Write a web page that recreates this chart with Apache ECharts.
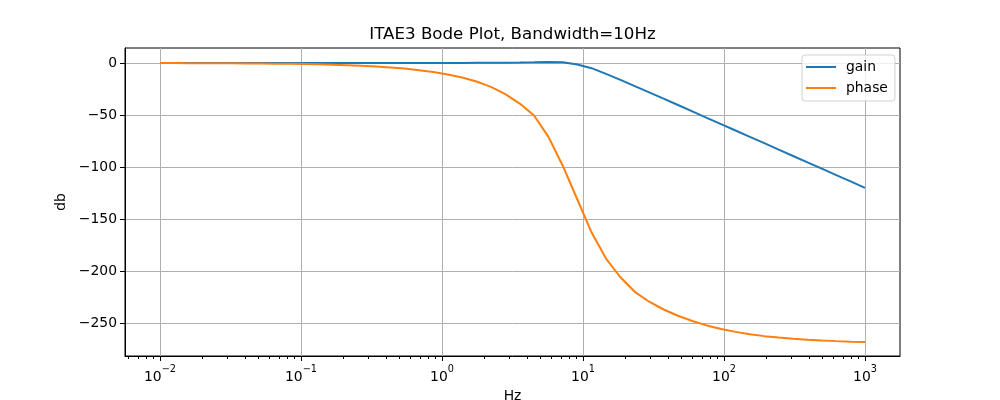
<!DOCTYPE html>
<html>
<head>
<meta charset="utf-8">
<script src="https://cdn.jsdelivr.net/npm/echarts@6/dist/echarts.min.js"></script>
<style>
html,body{margin:0;padding:0;background:#fff;}
#chart{width:1000px;height:400px;}
</style>
</head>
<body>
<div id="chart"></div>
<script>
// Frequencies (Hz), 50 log-spaced samples
const freqs = [0.01, 0.012649, 0.015999, 0.020236, 0.025595, 0.032375, 0.040949, 0.051795, 0.065513, 0.082864,
  0.10481, 0.13257, 0.16768, 0.21210, 0.26827, 0.33932, 0.42919, 0.54287, 0.68665, 0.86851,
  1.0985, 1.3895, 1.7575, 2.2230, 2.8118, 3.5565, 4.4984, 5.6899, 7.1969, 9.1030,
  11.514, 14.563, 18.421, 23.300, 29.471, 37.276, 47.149, 59.636, 75.431, 95.410,
  120.68, 152.64, 193.07, 244.21, 308.89, 390.70, 494.17, 625.06, 790.60, 1000];

const gain = [0, 0, 0, 0, 0, 0, 0, 0, 0, 0,
  0, 0, 0, 0, 0, 0, 0, 0, 0, 0,
  0, 0.05, 0.1, 0.15, 0.25, 0.4, 0.6, 0.85, 0.7, -1.5,
  -5, -10.5, -16.2, -22.2, -28.2, -34.3, -40.4, -46.5, -52.7, -58.8,
  -64.9, -71.0, -77.1, -83.3, -89.4, -95.5, -101.6, -107.8, -113.9, -120];

const phase = [-0.1, -0.13, -0.16, -0.2, -0.26, -0.32, -0.41, -0.52, -0.66, -0.83,
  -1.05, -1.33, -1.68, -2.1, -2.7, -3.4, -4.3, -5.4, -6.9, -8.7,
  -11, -14, -17.8, -23, -30, -39, -50.5, -71, -99, -131,
  -163, -188, -206, -220, -229.5, -237, -243, -248, -252.3, -255.7,
  -258.5, -260.8, -262.6, -264, -265.2, -266.1, -266.8, -267.4, -267.9, -268.3];

const xMajorTicks = [0.01, 0.1, 1, 10, 100, 1000];
const xMinorTicks = [0.006, 0.007, 0.008, 0.009,
  0.02, 0.03, 0.04, 0.05, 0.06, 0.07, 0.08, 0.09,
  0.2, 0.3, 0.4, 0.5, 0.6, 0.7, 0.8, 0.9,
  2, 3, 4, 5, 6, 7, 8, 9,
  20, 30, 40, 50, 60, 70, 80, 90,
  200, 300, 400, 500, 600, 700, 800, 900];
const yTicks = [-250, -200, -150, -100, -50, 0];

const titleText = 'ITAE3 Bode Plot, Bandwidth=10Hz';
const xName = 'Hz';
const yName = 'db';
const seriesNames = ['gain', 'phase'];

const FONT = 'DejaVu Sans';
const xMin = 0.005646, xMax = 1771;
const yMin = -281.7, yMax = 14.4;

const chart = echarts.init(document.getElementById('chart'), null, {renderer: 'canvas'});

function mkPair(xs, ys) { return xs.map((x, i) => [x, ys[i]]); }

chart.setOption({
  animation: false,
  backgroundColor: '#fff',
  title: {
    text: titleText,
    left: 512.5,
    textAlign: 'center',
    top: 26,
    padding: 0,
    textStyle: {fontFamily: FONT, fontSize: 16.67, fontWeight: 'normal', color: '#000'}
  },
  grid: {
    left: 125, right: 100, top: 48, bottom: 44,
    containLabel: false, outerBoundsMode: 'none',
    show: true, borderColor: '#000', borderWidth: 1, backgroundColor: 'transparent'
  },
  legend: {
    orient: 'vertical',
    left: 802, top: 55,
    padding: [4, 7, 5, 4],
    icon: 'rect',
    itemWidth: 30, itemHeight: 2, itemGap: 5,
    backgroundColor: 'rgba(255,255,255,0.8)',
    borderColor: 'rgba(204,204,204,0.9)',
    borderWidth: 1, borderRadius: 3,
    textStyle: {fontFamily: FONT, fontSize: 13.9, color: '#000', padding: [0, 0, 0, 5], lineHeight: 16},
    data: seriesNames
  },
  xAxis: [{
    type: 'log', logBase: 10, min: xMin, max: xMax,
    position: 'bottom',
    name: xName, nameLocation: 'middle', nameGap: 31,
    nameTextStyle: {fontFamily: FONT, fontSize: 13.9, color: '#000'},
    axisLine: {show: true, onZero: false, lineStyle: {color: '#000', width: 1}},
    axisTick: {show: true, inside: false, length: 5, customValues: xMajorTicks, lineStyle: {color: '#000', width: 1}},
    axisLabel: {
      show: true, margin: 8, customValues: xMajorTicks,
      formatter: function (v) {
        const e = Math.round(Math.log10(v));
        return '{b|10}{s|' + (e < 0 ? '\u2212' : '') + Math.abs(e) + '}';
      },
      rich: {
        b: {fontFamily: FONT, fontSize: 13.9, color: '#000', verticalAlign: 'bottom', lineHeight: 20},
        s: {fontFamily: FONT, fontSize: 9.7, color: '#000', verticalAlign: 'top', lineHeight: 20}
      }
    },
    splitLine: {show: true, lineStyle: {color: '#b0b0b0', width: 1}},
    minorTick: {show: false}
  }, {
    type: 'log', logBase: 10, min: xMin, max: xMax,
    position: 'bottom',
    axisLine: {show: false, onZero: false},
    axisTick: {show: true, inside: false, length: 3, customValues: xMinorTicks, lineStyle: {color: '#000', width: 1}},
    axisLabel: {show: false},
    splitLine: {show: false}
  }],
  yAxis: {
    type: 'value', min: yMin, max: yMax,
    name: yName, nameLocation: 'middle', nameGap: 50,
    nameTextStyle: {fontFamily: FONT, fontSize: 13.9, color: '#000'},
    axisLine: {show: true, onZero: false, lineStyle: {color: '#000', width: 1}},
    axisTick: {show: true, inside: false, length: 5, customValues: yTicks, lineStyle: {color: '#000', width: 1}},
    axisLabel: {
      show: true, margin: 8, customValues: yTicks,
      fontFamily: FONT, fontSize: 13.9, color: '#000',
      formatter: function (v) { return String(v).replace('-', '\u2212'); }
    },
    splitLine: {show: true, lineStyle: {color: '#b0b0b0', width: 1}}
  },
  series: [{
    name: seriesNames[0], type: 'line', xAxisIndex: 0,
    data: mkPair(freqs, gain),
    symbol: 'none', showSymbol: false,
    lineStyle: {color: '#1f77b4', width: 2},
    itemStyle: {color: '#1f77b4'},
    z: 3
  }, {
    name: seriesNames[1], type: 'line', xAxisIndex: 0,
    data: mkPair(freqs, phase),
    symbol: 'none', showSymbol: false,
    lineStyle: {color: '#ff7f0e', width: 2},
    itemStyle: {color: '#ff7f0e'},
    z: 4
  }]
});
</script>
</body>
</html>
